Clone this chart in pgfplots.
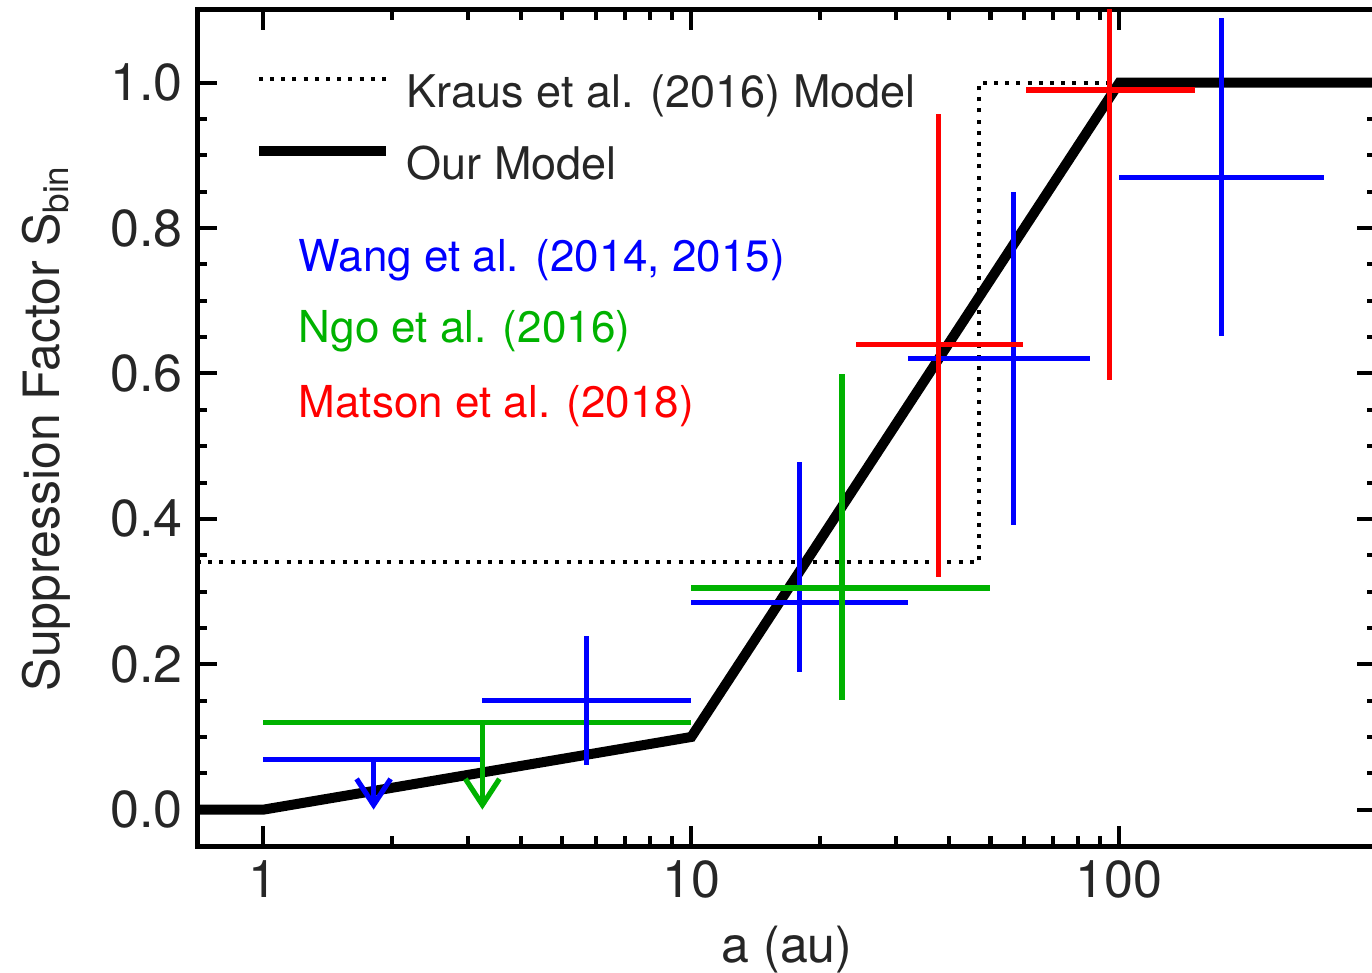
\documentclass[border=0pt]{standalone}
\usepackage{fontspec}
\setmainfont{TeX Gyre Heros}
\usepackage{pgfplots}
\usepackage{pgfplotstable}
\pgfplotsset{compat=1.18}
\usetikzlibrary{arrows.meta}

\definecolor{idlblue}{RGB}{0,0,255}
\definecolor{idlgreen}{RGB}{0,178,0}
\definecolor{idlred}{RGB}{255,0,0}

% x y xminus xplus yminus yplus
\pgfplotstableread{
x y xm xp ym yp
5.7 0.150 2.45 4.30 0.088 0.089
17.9 0.285 7.9 14.1 0.095 0.193
56.6 0.621 24.6 29.0 0.230 0.228
173 0.870 73 127 0.219 0.219
}\wang
\pgfplotstableread{
x y xm xp ym yp
22.5 0.305 12.5 27.5 0.154 0.294
}\ngo
\pgfplotstableread{
x y xm xp ym yp
37.8 0.640 13.6 21.6 0.320 0.317
94.8 0.990 34.4 55.2 0.399 0.400
}\matson

\begin{document}
\begin{tikzpicture}
\begin{axis}[
  scale only axis, width=295pt, height=209pt,
  xmode=log, xmin=0.7, xmax=400, ymin=-0.05, ymax=1.1,
  xtick={1,10,100}, xticklabels={1,10,100},
  ytick={0,0.2,0.4,0.6,0.8,1.0}, minor y tick num=3,
  yticklabel style={/pgf/number format/.cd, fixed, fixed zerofill, precision=1},
  /pgf/number format/assume math mode=true,
  tick style={black, line width=1pt},
  major tick length=5pt, minor tick length=2.5pt,
  axis line style={line width=1.25pt},
  tick label style={font=\fontsize{13}{15}\selectfont, text=black!85},
  label style={font=\fontsize{12.5}{15}\selectfont, text=black!85},
  xlabel={a (au)}, ylabel={Suppression Factor S\textsubscript{bin}},
  xlabel style={at={(axis description cs:0.5,-0.139)}, anchor=base},
  ylabel style={at={(axis description cs:-0.128,0.5)}, anchor=center},
  legend style={at={(axis description cs:0.0475,0.927)}, anchor=north west,
    draw=none, fill=none, inner sep=0pt, row sep=6pt, column sep=4pt,
    font=\fontsize{11.25}{13}\selectfont,
    nodes={inner sep=0pt, text height=9pt, text depth=3pt, text=black!85}},
  legend cell align=left,
  legend image code/.code={\draw[#1] (0pt,4.25pt) -- (31.75pt,4.25pt);},
]
% Kraus et al. (2016) step model
\addplot[black, line width=1pt, dash pattern=on 1pt off 1.8pt] coordinates {
  (0.7,0.34) (47,0.34) (47,1.0) (400,1.0)
};
\addlegendentry{Kraus et al. (2016) Model}
% our model
\addplot[black, line width=2.5pt] coordinates {
  (0.7,0) (1,0) (10,0.1) (100,1.0) (400,1.0)
};
\addlegendentry{Our Model}

% upper limits
\addplot[idlblue, line width=1.3pt, forget plot] coordinates {(1,0.069) (3.22,0.069)};
\addplot[idlblue, line width=1.3pt, -{Straight Barb[length=6.5pt,width=8.5pt]}, forget plot]
  coordinates {(1.81,0.069) (1.81,0.0)};
\addplot[idlgreen, line width=1.3pt, forget plot] coordinates {(1,0.12) (10,0.12)};
\addplot[idlgreen, line width=1.3pt, -{Straight Barb[length=6.5pt,width=8.5pt]}, forget plot]
  coordinates {(3.25,0.12) (3.25,0.0)};

% measurements
\addplot[idlblue, draw=none, mark=none, forget plot,
  error bars/.cd, x dir=both, y dir=both, x explicit, y explicit,
  error mark=none, error bar style={line width=1.3pt, idlblue}]
  table[x=x, y=y, x error minus=xm, x error plus=xp, y error minus=ym, y error plus=yp] {\wang};
\addplot[idlgreen, draw=none, mark=none, forget plot,
  error bars/.cd, x dir=both, y dir=both, x explicit, y explicit,
  error mark=none, error bar style={line width=1.3pt, idlgreen}]
  table[x=x, y=y, x error minus=xm, x error plus=xp, y error minus=ym, y error plus=yp] {\ngo};
\addplot[idlred, draw=none, mark=none, forget plot,
  error bars/.cd, x dir=both, y dir=both, x explicit, y explicit,
  error mark=none, error bar style={line width=1.3pt, idlred}]
  table[x=x, y=y, x error minus=xm, x error plus=xp, y error minus=ym, y error plus=yp] {\matson};

\node[anchor=base west, inner sep=0pt, text=idlblue, font=\fontsize{11}{13}\selectfont]
  at (axis description cs:0.0856,0.6866) {Wang et al. (2014, 2015)};
\node[anchor=base west, inner sep=0pt, text=idlgreen, font=\fontsize{11}{13}\selectfont]
  at (axis description cs:0.0856,0.6017) {Ngo et al. (2016)};
\node[anchor=base west, inner sep=0pt, text=idlred, font=\fontsize{11}{13}\selectfont]
  at (axis description cs:0.0856,0.513) {Matson et al. (2018)};
\end{axis}
\pgfresetboundingbox
\path[use as bounding box] ([xshift=-49.25pt,yshift=-31.5pt]current axis.south west)
  rectangle ([xshift=-1.25pt,yshift=2.5pt]current axis.north east);
\end{tikzpicture}
\end{document}
